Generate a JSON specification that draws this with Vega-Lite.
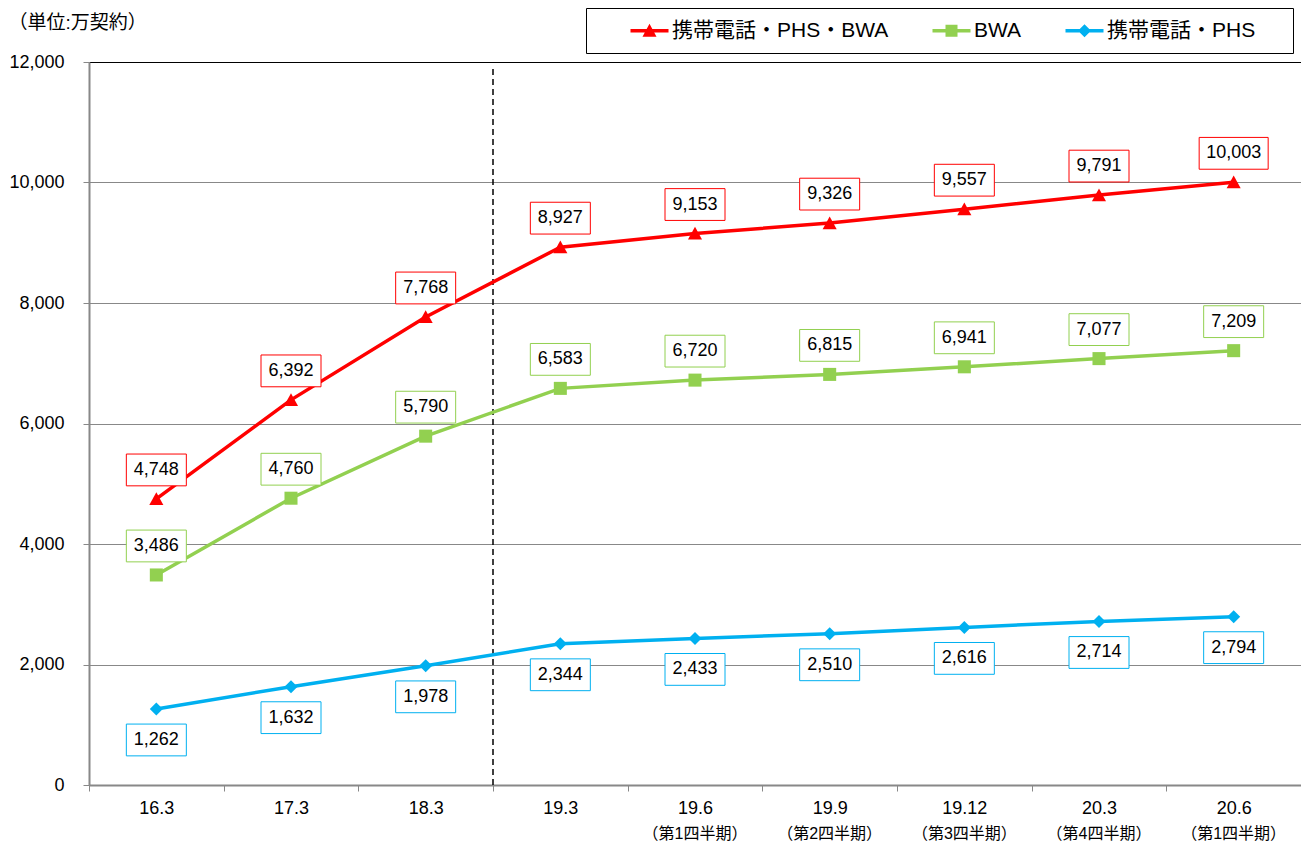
{
  "$schema": "https://vega.github.io/schema/vega-lite/v6.json",
  "width": 1212,
  "height": 723,
  "autosize": "none",
  "padding": {"left": 89, "top": 62, "right": 0, "bottom": 61},
  "background": "white",
  "config": {"font": "Liberation Sans, Noto Sans CJK JP", "view": {"stroke": null}},
  "datasets": {
    "main": [
      {"t": "16.3", "s": "携帯電話・PHS・BWA", "v": 4748},
      {"t": "17.3", "s": "携帯電話・PHS・BWA", "v": 6392},
      {"t": "18.3", "s": "携帯電話・PHS・BWA", "v": 7768},
      {"t": "19.3", "s": "携帯電話・PHS・BWA", "v": 8927},
      {"t": "19.6", "s": "携帯電話・PHS・BWA", "v": 9153},
      {"t": "19.9", "s": "携帯電話・PHS・BWA", "v": 9326},
      {"t": "19.12", "s": "携帯電話・PHS・BWA", "v": 9557},
      {"t": "20.3", "s": "携帯電話・PHS・BWA", "v": 9791},
      {"t": "20.6", "s": "携帯電話・PHS・BWA", "v": 10003},
      {"t": "16.3", "s": "BWA", "v": 3486},
      {"t": "17.3", "s": "BWA", "v": 4760},
      {"t": "18.3", "s": "BWA", "v": 5790},
      {"t": "19.3", "s": "BWA", "v": 6583},
      {"t": "19.6", "s": "BWA", "v": 6720},
      {"t": "19.9", "s": "BWA", "v": 6815},
      {"t": "19.12", "s": "BWA", "v": 6941},
      {"t": "20.3", "s": "BWA", "v": 7077},
      {"t": "20.6", "s": "BWA", "v": 7209},
      {"t": "16.3", "s": "携帯電話・PHS", "v": 1262},
      {"t": "17.3", "s": "携帯電話・PHS", "v": 1632},
      {"t": "18.3", "s": "携帯電話・PHS", "v": 1978},
      {"t": "19.3", "s": "携帯電話・PHS", "v": 2344},
      {"t": "19.6", "s": "携帯電話・PHS", "v": 2433},
      {"t": "19.9", "s": "携帯電話・PHS", "v": 2510},
      {"t": "19.12", "s": "携帯電話・PHS", "v": 2616},
      {"t": "20.3", "s": "携帯電話・PHS", "v": 2714},
      {"t": "20.6", "s": "携帯電話・PHS", "v": 2794}
    ],
    "subs": [
      {"t": "19.6", "sub": "（第1四半期）"},
      {"t": "19.9", "sub": "（第2四半期）"},
      {"t": "19.12", "sub": "（第3四半期）"},
      {"t": "20.3", "sub": "（第4四半期）"},
      {"t": "20.6", "sub": "（第1四半期）"}
    ],
    "divider": [{"t": "19.3"}]
  },
  "encoding": {
    "x": {
      "field": "t",
      "type": "nominal",
      "scale": {"type": "band", "paddingInner": 0, "paddingOuter": 0, "domain": ["16.3", "17.3", "18.3", "19.3", "19.6", "19.9", "19.12", "20.3", "20.6"]},
      "axis": {"title": null, "labelAngle": 0, "tickBand": "extent", "domainColor": "#888888", "domainWidth": 2, "tickColor": "#888888", "tickSize": 6, "labelFontSize": 18, "labelPadding": 8, "labelColor": "black", "grid": false}
    }
  },
  "layer": [
    {
      "data": {"name": "divider"},
      "mark": {"type": "rule", "color": "black", "strokeWidth": 1.5, "strokeDash": [6, 4]},
      "encoding": {
        "x": {"field": "t", "type": "nominal", "bandPosition": 0},
        "y": {"datum": 0, "type": "quantitative"},
        "y2": {"datum": 11900}
      }
    },
    {
      "data": {"name": "main"},
      "mark": {"type": "line", "strokeWidth": 3.5},
      "encoding": {
        "y": {
          "field": "v",
          "type": "quantitative",
          "scale": {"domain": [0, 12000], "nice": false},
          "axis": {
            "title": "（単位:万契約）",
            "titleAngle": 0,
            "titleX": -81,
            "titleY": -40,
            "titleAlign": "left",
            "titleBaseline": "middle",
            "titleFontSize": 19,
            "titleFontWeight": "normal",
            "titleColor": "black",
            "values": [0, 2000, 4000, 6000, 8000, 10000, 12000],
            "labelExpr": "format(datum.value, ',')",
            "grid": true,
            "gridColor": {"condition": {"test": "datum.value === 12000", "value": "black"}, "value": "#888888"},
            "gridWidth": 1,
            "domainColor": "#888888",
            "domainWidth": 2,
            "tickColor": "#888888",
            "tickSize": 6,
            "labelFontSize": 18,
            "labelPadding": 19,
            "labelColor": "black"
          }
        },
        "color": {
          "field": "s",
          "type": "nominal",
          "scale": {"domain": ["携帯電話・PHS・BWA", "BWA", "携帯電話・PHS"], "range": ["#FF0000", "#92D050", "#00B0F0"]},
          "legend": {
            "title": "\u3000",
            "titleOrient": "right",
            "titlePadding": 26,
            "titleFontSize": 21,
            "orient": "none",
            "legendX": 497,
            "legendY": -54,
            "direction": "horizontal",
            "fillColor": "white",
            "strokeColor": "black",
            "padding": 12,
            "labelFontSize": 21,
            "labelLimit": 500,
            "labelColor": "black",
            "labelOffset": 12,
            "columnPadding": 11,
            "symbolOffset": 41,
            "symbolSize": 400,
            "symbolStrokeWidth": 0,
            "symbolOpacity": 1
          }
        }
      }
    },
    {
      "data": {"name": "main"},
      "transform": [{"filter": "false"}],
      "mark": {"type": "point", "filled": true, "opacity": 1},
      "encoding": {
        "y": {"field": "v", "type": "quantitative"},
        "color": {"field": "s", "type": "nominal"},
        "shape": {"field": "s", "type": "nominal", "scale": {"domain": ["携帯電話・PHS・BWA", "BWA", "携帯電話・PHS"], "range": ["M-1.9,-0.18H1.9V0.18H-1.9Z M0,-0.7L0.7,0.6H-0.7Z", "M-1.9,-0.18H1.9V0.18H-1.9Z M-0.6,-0.6H0.6V0.6H-0.6Z", "M-1.9,-0.18H1.9V0.18H-1.9Z M0,-0.65L0.65,0L0,0.65L-0.65,0Z"]}}
      }
    },
    {
      "data": {"name": "main"},
      "transform": [{"filter": "datum.s === '携帯電話・PHS・BWA'"}],
      "mark": {"type": "point", "filled": true, "opacity": 1, "size": 180, "shape": "M0,-1L1.05,0.9H-1.05Z"},
      "encoding": {
        "y": {"field": "v", "type": "quantitative"},
        "color": {"field": "s", "type": "nominal", "legend": null}
      }
    },
    {
      "data": {"name": "main"},
      "transform": [{"filter": "datum.s === 'BWA'"}],
      "mark": {"type": "point", "filled": true, "opacity": 1, "size": 170, "shape": "square"},
      "encoding": {
        "y": {"field": "v", "type": "quantitative"},
        "color": {"field": "s", "type": "nominal", "legend": null}
      }
    },
    {
      "data": {"name": "main"},
      "transform": [{"filter": "datum.s === '携帯電話・PHS'"}],
      "mark": {"type": "point", "filled": true, "opacity": 1, "size": 169, "shape": "diamond"},
      "encoding": {
        "y": {"field": "v", "type": "quantitative"},
        "color": {"field": "s", "type": "nominal", "legend": null}
      }
    },
    {
      "data": {"name": "main"},
      "transform": [{"filter": "datum.s !== '携帯電話・PHS'"}],
      "mark": {"type": "point", "filled": false, "fill": "white", "fillOpacity": 1, "opacity": 1, "strokeWidth": 1, "size": 3600, "yOffset": -29},
      "encoding": {
        "y": {"field": "v", "type": "quantitative"},
        "stroke": {"field": "s", "type": "nominal", "legend": null, "scale": {"domain": ["携帯電話・PHS・BWA", "BWA", "携帯電話・PHS"], "range": ["#FF0000", "#92D050", "#00B0F0"]}},
        "shape": {"condition": {"test": "datum.v >= 10000", "value": "M-1.15,-0.53H1.15V0.53H-1.15Z"}, "value": "M-1,-0.53H1V0.53H-1Z"}
      }
    },
    {
      "data": {"name": "main"},
      "transform": [{"filter": "datum.s === '携帯電話・PHS'"}],
      "mark": {"type": "point", "filled": false, "fill": "white", "fillOpacity": 1, "opacity": 1, "strokeWidth": 1, "size": 3600, "yOffset": 31, "shape": "M-1,-0.53H1V0.53H-1Z"},
      "encoding": {
        "y": {"field": "v", "type": "quantitative"},
        "stroke": {"field": "s", "type": "nominal", "legend": null}
      }
    },
    {
      "data": {"name": "main"},
      "transform": [{"filter": "datum.s !== '携帯電話・PHS'"}],
      "mark": {"type": "text", "fontSize": 18, "color": "black", "baseline": "middle", "align": "center", "dy": -29},
      "encoding": {
        "y": {"field": "v", "type": "quantitative"},
        "text": {"field": "v", "type": "quantitative", "format": ","}
      }
    },
    {
      "data": {"name": "main"},
      "transform": [{"filter": "datum.s === '携帯電話・PHS'"}],
      "mark": {"type": "text", "fontSize": 18, "color": "black", "baseline": "middle", "align": "center", "dy": 31},
      "encoding": {
        "y": {"field": "v", "type": "quantitative"},
        "text": {"field": "v", "type": "quantitative", "format": ","}
      }
    },
    {
      "data": {"name": "subs"},
      "mark": {"type": "text", "fontSize": 16, "color": "black", "baseline": "middle", "align": "center", "dy": 49},
      "encoding": {
        "y": {"datum": 0, "type": "quantitative"},
        "text": {"field": "sub", "type": "nominal"}
      }
    }
  ]
}
